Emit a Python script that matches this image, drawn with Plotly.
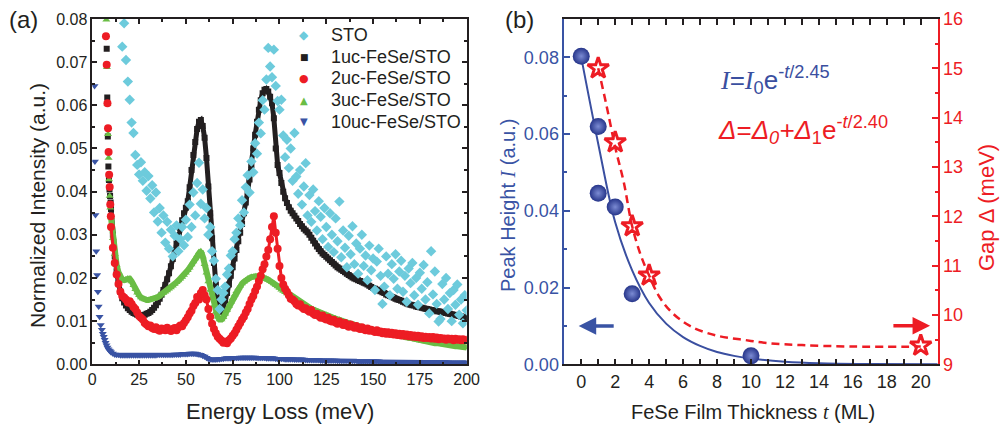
import plotly.graph_objects as go

# ---------------- Panel (a): HREELS spectra ----------------
energy = list(range(10, 201))        # meV, shared grid of the main spectra
energy_sto = list(range(16, 201))    # meV, STO substrate spectrum

# steep elastic-tail points (below 10 meV)
e_1uc_onset = [7.7, 8.0, 8.3, 8.6, 8.9, 9.2, 9.5, 9.8]
i_1uc_onset = [0.0731, 0.0618, 0.0528, 0.0458, 0.0427, 0.0405, 0.0390, 0.0375]
e_2uc_onset = [7.3, 7.7, 8.1, 8.4, 8.7, 9.0, 9.3, 9.6, 9.9]
i_2uc_onset = [0.0760, 0.0694, 0.0605, 0.0547, 0.0492, 0.0439, 0.0411, 0.0370, 0.0343]
e_3uc_onset = [7.5, 7.8, 8.1, 8.4, 8.7, 9.0, 9.3, 9.6]
i_3uc_onset = [0.0798, 0.0688, 0.0603, 0.0533, 0.0478, 0.0428, 0.0390, 0.0363]
e_10uc_onset = [1.2, 1.4, 1.7, 2.1, 2.6, 3.0, 3.4, 3.9, 4.5, 5.1, 5.6, 6.1, 6.6, 7.1, 7.6, 8.1, 8.6, 9.1, 9.6]
i_10uc_onset = [0.0645, 0.0470, 0.0346, 0.0262, 0.0207, 0.0168, 0.0134, 0.0110, 0.0091, 0.0080,
                0.0071, 0.0064, 0.0057, 0.0050, 0.0044, 0.0039, 0.0035, 0.0032, 0.0030]

i_1uc = [
    0.0360, 0.0300, 0.0250, 0.0215, 0.0188, 0.0168, 0.0153, 0.0143, 0.0136, 0.0130,  # 10-19
    0.0126, 0.0122, 0.0119, 0.0117, 0.0115, 0.0114, 0.0114, 0.0114, 0.0115, 0.0117,  # 20-29
    0.0119, 0.0122, 0.0126, 0.0131, 0.0137, 0.0144, 0.0152, 0.0161, 0.0172, 0.0184,  # 30-39
    0.0197, 0.0211, 0.0227, 0.0244, 0.0262, 0.0280, 0.0298, 0.0316, 0.0334, 0.0350,  # 40-49
    0.0363, 0.0378, 0.0410, 0.0450, 0.0485, 0.0515, 0.0545, 0.0562, 0.0566, 0.0552,  # 50-59
    0.0525, 0.0478, 0.0412, 0.0350, 0.0292, 0.0235, 0.0185, 0.0148, 0.0126, 0.0122,  # 60-69
    0.0132, 0.0148, 0.0165, 0.0185, 0.0205, 0.0225, 0.0245, 0.0265, 0.0285, 0.0305,  # 70-79
    0.0325, 0.0350, 0.0375, 0.0400, 0.0428, 0.0462, 0.0500, 0.0532, 0.0562, 0.0590,  # 80-89
    0.0612, 0.0628, 0.0636, 0.0638, 0.0632, 0.0620, 0.0605, 0.0570, 0.0500, 0.0462,  # 90-99
    0.0443, 0.0420, 0.0400, 0.0385, 0.0374, 0.0364, 0.0356, 0.0350, 0.0344, 0.0338,  # 100-109
    0.0332, 0.0325, 0.0320, 0.0314, 0.0310, 0.0306, 0.0300, 0.0293, 0.0286, 0.0280,  # 110-119
    0.0273, 0.0267, 0.0262, 0.0257, 0.0253, 0.0249, 0.0245, 0.0241, 0.0237, 0.0233,  # 120-129
    0.0229, 0.0225, 0.0222, 0.0219, 0.0216, 0.0213, 0.0210, 0.0207, 0.0204, 0.0201,  # 130-139
    0.0199, 0.0197, 0.0195, 0.0193, 0.0191, 0.0189, 0.0187, 0.0185, 0.0182, 0.0179,  # 140-149
    0.0177, 0.0175, 0.0173, 0.0171, 0.0169, 0.0167, 0.0165, 0.0162, 0.0160, 0.0158,  # 150-159
    0.0156, 0.0154, 0.0152, 0.0150, 0.0149, 0.0147, 0.0145, 0.0143, 0.0141, 0.0139,  # 160-169
    0.0138, 0.0137, 0.0136, 0.0134, 0.0133, 0.0132, 0.0131, 0.0130, 0.0129, 0.0128,  # 170-179
    0.0127, 0.0126, 0.0125, 0.0124, 0.0123, 0.0123, 0.0122, 0.0121, 0.0120, 0.0119,  # 180-189
    0.0118, 0.0117, 0.0116, 0.0115, 0.0114, 0.0113, 0.0112, 0.0111, 0.0110, 0.0108,  # 190-199
    0.0107,
]

i_2uc = [
    0.0318, 0.0270, 0.0235, 0.0208, 0.0186, 0.0168, 0.0158, 0.0155, 0.0150, 0.0143,
    0.0146, 0.0140, 0.0133, 0.0128, 0.0120, 0.0112, 0.0108, 0.0104, 0.0096, 0.0092,
    0.0088, 0.0090, 0.0084, 0.0082, 0.0086, 0.0080, 0.0078, 0.0083, 0.0081, 0.0079,
    0.0085, 0.0080, 0.0077, 0.0082, 0.0084, 0.0079, 0.0086, 0.0090, 0.0088, 0.0096,
    0.0102, 0.0109, 0.0118, 0.0124, 0.0135, 0.0142, 0.0156, 0.0150, 0.0165, 0.0172,
    0.0160, 0.0150, 0.0128, 0.0110, 0.0094, 0.0082, 0.0072, 0.0064, 0.0059, 0.0055,
    0.0050, 0.0052, 0.0049, 0.0056, 0.0060, 0.0066, 0.0072, 0.0080, 0.0088, 0.0096,
    0.0104, 0.0110, 0.0120, 0.0128, 0.0140, 0.0150, 0.0158, 0.0170, 0.0180, 0.0193,
    0.0205, 0.0220, 0.0232, 0.0250, 0.0265, 0.0290, 0.0318, 0.0343, 0.0305, 0.0268,
    0.0228, 0.0200, 0.0185, 0.0175, 0.0168, 0.0160, 0.0152, 0.0150, 0.0146, 0.0140,
    0.0136, 0.0139, 0.0132, 0.0128, 0.0130, 0.0125, 0.0122, 0.0126, 0.0118, 0.0114,
    0.0117, 0.0112, 0.0108, 0.0113, 0.0106, 0.0104, 0.0108, 0.0101, 0.0099, 0.0103,
    0.0097, 0.0094, 0.0099, 0.0095, 0.0091, 0.0096, 0.0090, 0.0087, 0.0092, 0.0088,
    0.0085, 0.0089, 0.0084, 0.0082, 0.0086, 0.0081, 0.0079, 0.0083, 0.0078, 0.0080,
    0.0077, 0.0075, 0.0079, 0.0074, 0.0076, 0.0072, 0.0075, 0.0071, 0.0074, 0.0070,
    0.0073, 0.0069, 0.0072, 0.0068, 0.0071, 0.0067, 0.0070, 0.0066, 0.0069, 0.0065,
    0.0068, 0.0064, 0.0067, 0.0063, 0.0066, 0.0062, 0.0065, 0.0061, 0.0064, 0.0061,
    0.0063, 0.0060, 0.0063, 0.0059, 0.0062, 0.0058, 0.0061, 0.0059, 0.0060, 0.0057,
    0.0060, 0.0058, 0.0059, 0.0056, 0.0059, 0.0057, 0.0058, 0.0056, 0.0058, 0.0056,
    0.0057,
]

i_3uc = [
    0.0340, 0.0292, 0.0255, 0.0230, 0.0213, 0.0202, 0.0196, 0.0195, 0.0197, 0.0199,
    0.0198, 0.0192, 0.0183, 0.0174, 0.0166, 0.0160, 0.0155, 0.0152, 0.0150, 0.0149,
    0.0149, 0.0150, 0.0151, 0.0152, 0.0154, 0.0156, 0.0159, 0.0162, 0.0165, 0.0168,
    0.0171, 0.0175, 0.0178, 0.0182, 0.0186, 0.0190, 0.0194, 0.0198, 0.0202, 0.0207,
    0.0212, 0.0218, 0.0224, 0.0231, 0.0238, 0.0245, 0.0253, 0.0260, 0.0262, 0.0250,
    0.0232, 0.0212, 0.0192, 0.0172, 0.0153, 0.0136, 0.0121, 0.0110, 0.0104, 0.0104,
    0.0109, 0.0117, 0.0126, 0.0135, 0.0144, 0.0153, 0.0161, 0.0169, 0.0176, 0.0182,
    0.0187, 0.0191, 0.0195, 0.0198, 0.0200, 0.0202, 0.0203, 0.0204, 0.0204, 0.0204,
    0.0203, 0.0202, 0.0200, 0.0198, 0.0196, 0.0193, 0.0190, 0.0187, 0.0184, 0.0180,
    0.0177, 0.0173, 0.0170, 0.0167, 0.0164, 0.0161, 0.0158, 0.0155, 0.0152, 0.0149,
    0.0146, 0.0143, 0.0141, 0.0138, 0.0136, 0.0134, 0.0131, 0.0129, 0.0127, 0.0125,
    0.0123, 0.0121, 0.0119, 0.0117, 0.0115, 0.0114, 0.0112, 0.0110, 0.0109, 0.0107,
    0.0106, 0.0104, 0.0103, 0.0101, 0.0100, 0.0098, 0.0097, 0.0095, 0.0094, 0.0093,
    0.0091, 0.0090, 0.0089, 0.0087, 0.0086, 0.0085, 0.0084, 0.0082, 0.0081, 0.0080,
    0.0079, 0.0078, 0.0077, 0.0076, 0.0075, 0.0074, 0.0073, 0.0072, 0.0071, 0.0070,
    0.0069, 0.0068, 0.0067, 0.0066, 0.0065, 0.0064, 0.0063, 0.0062, 0.0061, 0.0060,
    0.0059, 0.0058, 0.0058, 0.0057, 0.0056, 0.0055, 0.0054, 0.0054, 0.0053, 0.0052,
    0.0051, 0.0051, 0.0050, 0.0049, 0.0049, 0.0048, 0.0047, 0.0047, 0.0046, 0.0045,
    0.0045, 0.0044, 0.0043, 0.0043, 0.0042, 0.0042, 0.0041, 0.0040, 0.0040, 0.0039,
    0.0039,
]

i_10uc = [
    0.0028, 0.0025, 0.0023, 0.0022, 0.0022, 0.0021, 0.0021, 0.0021, 0.0021, 0.0021,
    0.0021, 0.0021, 0.0021, 0.0021, 0.0021, 0.0021, 0.0021, 0.0021, 0.0021, 0.0021,
    0.0021, 0.0021, 0.0021, 0.0021, 0.0021, 0.0022, 0.0022, 0.0022, 0.0022, 0.0022,
    0.0022, 0.0022, 0.0022, 0.0022, 0.0023, 0.0023, 0.0023, 0.0023, 0.0024, 0.0024,
    0.0024, 0.0024, 0.0025, 0.0025, 0.0025, 0.0025, 0.0024, 0.0023, 0.0022, 0.0020,
    0.0018, 0.0015, 0.0013, 0.0012, 0.0011, 0.0011, 0.0011, 0.0012, 0.0012, 0.0013,
    0.0013, 0.0014, 0.0014, 0.0014, 0.0014, 0.0015, 0.0015, 0.0015, 0.0015, 0.0016,
    0.0016, 0.0016, 0.0016, 0.0016, 0.0016, 0.0016, 0.0016, 0.0016, 0.0015, 0.0015,
    0.0015, 0.0015, 0.0015, 0.0014, 0.0014, 0.0014, 0.0014, 0.0014, 0.0013, 0.0013,
    0.0013, 0.0013, 0.0013, 0.0012, 0.0012, 0.0012, 0.0012, 0.0012, 0.0011, 0.0011,
    0.0011, 0.0011, 0.0011, 0.0011, 0.0010, 0.0010, 0.0010, 0.0010, 0.0010, 0.0010,
    0.0010, 0.0010, 0.0009, 0.0009, 0.0009, 0.0009, 0.0009, 0.0009, 0.0009, 0.0009,
    0.0009, 0.0008, 0.0008, 0.0008, 0.0008, 0.0008, 0.0008, 0.0008, 0.0008, 0.0008,
    0.0008, 0.0008, 0.0007, 0.0007, 0.0007, 0.0007, 0.0007, 0.0007, 0.0007, 0.0007,
    0.0007, 0.0007, 0.0007, 0.0007, 0.0006, 0.0006, 0.0006, 0.0006, 0.0006, 0.0006,
    0.0006, 0.0006, 0.0006, 0.0006, 0.0006, 0.0006, 0.0006, 0.0006, 0.0006, 0.0006,
    0.0006, 0.0005, 0.0005, 0.0005, 0.0005, 0.0005, 0.0005, 0.0005, 0.0005, 0.0005,
    0.0005, 0.0005, 0.0005, 0.0005, 0.0005, 0.0005, 0.0005, 0.0005, 0.0005, 0.0005,
    0.0005, 0.0004, 0.0004, 0.0004, 0.0004, 0.0004, 0.0004, 0.0004, 0.0004, 0.0004,
    0.0004,
]

i_sto = [
    0.0736, 0.0790, 0.0705, 0.0655, 0.0613, 0.0560, 0.0536, 0.0485, 0.0462, 0.0440,  # 16-25
    0.0468, 0.0425, 0.0445, 0.0402, 0.0436, 0.0384, 0.0415, 0.0352, 0.0398, 0.0331,  # 26-35
    0.0362, 0.0305, 0.0345, 0.0282, 0.0330, 0.0268, 0.0312, 0.0250, 0.0298, 0.0322,  # 36-45
    0.0262, 0.0290, 0.0318, 0.0276, 0.0335, 0.0295, 0.0370, 0.0318, 0.0398, 0.0345,  # 46-55
    0.0420, 0.0467, 0.0372, 0.0405, 0.0338, 0.0362, 0.0300, 0.0318, 0.0262, 0.0240,  # 56-65
    0.0198, 0.0172, 0.0128, 0.0150, 0.0165, 0.0180, 0.0208, 0.0222, 0.0252, 0.0262,  # 66-75
    0.0290, 0.0305, 0.0338, 0.0322, 0.0380, 0.0352, 0.0410, 0.0438, 0.0398, 0.0470,  # 76-85
    0.0445, 0.0512, 0.0488, 0.0560, 0.0535, 0.0612, 0.0590, 0.0660, 0.0733, 0.0690,  # 86-95
    0.0665, 0.0729, 0.0645, 0.0610, 0.0590, 0.0613, 0.0530, 0.0480, 0.0520, 0.0455,  # 96-105
    0.0500, 0.0425, 0.0536, 0.0435, 0.0395, 0.0450, 0.0370, 0.0412, 0.0466, 0.0345,  # 106-115
    0.0392, 0.0330, 0.0405, 0.0355, 0.0310, 0.0378, 0.0342, 0.0290, 0.0362, 0.0318,  # 116-125
    0.0272, 0.0350, 0.0300, 0.0260, 0.0338, 0.0285, 0.0377, 0.0248, 0.0310, 0.0270,  # 126-135
    0.0225, 0.0298, 0.0255, 0.0320, 0.0232, 0.0280, 0.0210, 0.0268, 0.0300, 0.0228,  # 136-145
    0.0252, 0.0195, 0.0275, 0.0218, 0.0245, 0.0172, 0.0238, 0.0268, 0.0205, 0.0140,  # 146-155
    0.0180, 0.0250, 0.0210, 0.0160, 0.0232, 0.0198, 0.0255, 0.0175, 0.0215, 0.0240,  # 156-165
    0.0168, 0.0205, 0.0145, 0.0222, 0.0188, 0.0235, 0.0160, 0.0200, 0.0138, 0.0212,  # 166-175
    0.0175, 0.0230, 0.0150, 0.0190, 0.0118, 0.0262, 0.0162, 0.0215, 0.0140, 0.0099,  # 176-185
    0.0105, 0.0186, 0.0150, 0.0200, 0.0128, 0.0165, 0.0100, 0.0172, 0.0138, 0.0185,  # 186-195
    0.0115, 0.0150, 0.0095, 0.0160, 0.0125,                                          # 196-200
]

# ---------------- Panel (b): thickness dependence ----------------
t_peak = [0, 1, 1, 2, 3, 10]
peak_height = [0.0803, 0.0620, 0.0446, 0.0410, 0.0184, 0.0022]
t_gap = [1, 2, 3, 4, 20]
gap = [15.0, 13.5, 11.8, 10.8, 9.38]

# fitted curves
t_fit_peak = [0, 1, 2, 3, 4, 5, 6, 7, 8, 9, 10, 12, 14, 17, 21]
peak_fit = [0.0800, 0.0575, 0.0370, 0.0245, 0.0160, 0.0106, 0.0071, 0.0048, 0.0032,
            0.0022, 0.0015, 0.0007, 0.0003, 0.0001, 0.00003]
t_fit_gap = [1.0, 1.5, 2.0, 2.5, 3.0, 3.5, 4.0, 4.6, 5.4, 6.5, 8.0, 9.5, 11, 13, 16, 20]
gap_fit = [15.0, 14.23, 13.4, 12.7, 11.8, 11.22, 10.8, 10.37, 10.03, 9.76, 9.58,
           9.5, 9.43, 9.39, 9.36, 9.36]

# legend rows of panel (a)
legend_labels = ["STO", "1uc-FeSe/STO", "2uc-FeSe/STO", "3uc-FeSe/STO", "10uc-FeSe/STO"]

BLACK = "#231f20"
RED = "#ed1c24"
GREEN = "#6abd45"
NAVY = "#3953a4"
CYAN = "#6dcbdc"
FIT_BLUE = "#3a4fa0"
SANS = "Liberation Sans, Arial, sans-serif"

fig = go.Figure()


def spectrum(name, color, symbol, msize, e_on, i_on, i_main, lw):
    # thick line under dense markers renders the closely spaced data points
    fig.add_trace(go.Scatter(
        x=energy, y=i_main, mode="lines+markers", name=name,
        line=dict(color=color, width=lw),
        marker=dict(symbol=symbol, size=msize, color=color),
        xaxis="x", yaxis="y", hoverinfo="skip"))
    fig.add_trace(go.Scatter(
        x=e_on, y=i_on, mode="markers", name=name,
        marker=dict(symbol=symbol, size=msize, color=color),
        xaxis="x", yaxis="y"))


spectrum("1uc-FeSe/STO", BLACK, "square", 6, e_1uc_onset, i_1uc_onset, i_1uc, 5)
spectrum("3uc-FeSe/STO", GREEN, "triangle-up", 7, e_3uc_onset, i_3uc_onset, i_3uc, 6)
spectrum("2uc-FeSe/STO", RED, "circle", 8, e_2uc_onset, i_2uc_onset, i_2uc, 3)
spectrum("10uc-FeSe/STO", NAVY, "triangle-down", 7, e_10uc_onset, i_10uc_onset, i_10uc, 4)

fig.add_trace(go.Scatter(
    x=energy_sto, y=i_sto, mode="markers", name="STO",
    marker=dict(symbol="diamond", size=8, color=CYAN),
    xaxis="x", yaxis="y"))

# panel (b) traces
fig.add_trace(go.Scatter(
    x=t_fit_peak, y=peak_fit, mode="lines", line=dict(color=FIT_BLUE, width=2, shape="spline"),
    xaxis="x2", yaxis="y2"))
fig.add_trace(go.Scatter(
    x=t_fit_gap, y=gap_fit, mode="lines",
    line=dict(color=RED, width=2.5, dash="8px,5px", shape="spline"),
    xaxis="x2", yaxis="y3"))
fig.add_trace(go.Scatter(
    x=t_peak, y=peak_height, mode="markers",
    marker=dict(symbol="circle", size=17, color="#26358a",
                gradient=dict(type="radial", color="#7b8bd3")),
    xaxis="x2", yaxis="y2"))
fig.add_trace(go.Scatter(
    x=t_gap, y=gap, mode="markers",
    marker=dict(symbol="star-open", size=16, color=RED, line=dict(width=3, color=RED)),
    xaxis="x2", yaxis="y3"))

X_DOM_A = [0.0922, 0.4662]
X_DOM_B = [0.5637, 0.9368]
Y_DOM = [0.1468, 0.9555]

common_tick = dict(ticks="inside", tickwidth=1.5, showgrid=False, zeroline=False,
                   showline=True, linewidth=1.5, automargin=False)

fig.update_layout(
    width=1001, height=427,
    margin=dict(l=0, r=0, t=0, b=0),
    template="none",
    paper_bgcolor="white", plot_bgcolor="white",
    font=dict(family=SANS, color=BLACK),
    showlegend=False,
    xaxis=dict(domain=X_DOM_A, range=[0, 200], dtick=25, tick0=0, ticklen=5,
               minor=dict(dtick=12.5, ticks="inside", ticklen=3, tickwidth=1.5, tickcolor=BLACK),
               linecolor=BLACK, tickcolor=BLACK, mirror="allticks", anchor="y",
               tickfont=dict(size=16, color=BLACK), **common_tick),
    yaxis=dict(domain=Y_DOM, range=[0, 0.08], dtick=0.01, tick0=0, tickformat=".2f", ticklen=5,
               minor=dict(dtick=0.005, ticks="inside", ticklen=3, tickwidth=1.5, tickcolor=BLACK),
               linecolor=BLACK, tickcolor=BLACK, mirror="allticks", anchor="x",
               tickfont=dict(size=16, color=BLACK), **common_tick),
    xaxis2=dict(domain=X_DOM_B, range=[-1, 21], dtick=2, tick0=0, ticklen=6,
                minor=dict(dtick=1, ticks="inside", ticklen=3, tickwidth=1.5, tickcolor=BLACK),
                linecolor=BLACK, tickcolor=BLACK, mirror="allticks", anchor="y2",
                tickfont=dict(size=18, color=BLACK), **common_tick),
    yaxis2=dict(domain=Y_DOM, range=[0, 0.09], tickvals=[0, 0.02, 0.04, 0.06, 0.08],
                tickformat=".2f", ticklen=6,
                minor=dict(dtick=0.01, ticks="inside", ticklen=3, tickwidth=1.5, tickcolor=NAVY),
                linecolor=NAVY, tickcolor=NAVY, anchor="x2",
                tickfont=dict(size=18, color=NAVY), **common_tick),
    yaxis3=dict(domain=Y_DOM, range=[9, 16], dtick=1, tick0=9, ticklen=6,
                minor=dict(dtick=0.5, ticks="inside", ticklen=3, tickwidth=1.5, tickcolor=RED),
                linecolor=RED, tickcolor=RED, anchor="x2", overlaying="y2", side="right",
                tickfont=dict(size=18, color=RED), **common_tick),
)

SERIF_I = '<span style="font-family:Liberation Serif"><i>I</i></span>'
annotations = [
    dict(text="(a)", x=23 / 1001, y=1 - 19 / 427, font=dict(size=24)),
    dict(text="(b)", x=519 / 1001, y=1 - 19 / 427, font=dict(size=24)),
    dict(text="Normalized Intensity (a.u.)", x=37 / 1001, y=1 - 206 / 427, textangle=-90,
         font=dict(size=21)),
    dict(text="Energy Loss (meV)", x=280 / 1001, y=1 - 411 / 427, font=dict(size=22)),
    dict(text="Peak Height " + SERIF_I + " (a.u.)", x=508 / 1001, y=1 - 206 / 427,
         textangle=-90, font=dict(size=20, color=NAVY)),
    dict(text="Gap Δ (meV)", x=986 / 1001, y=1 - 208 / 427, textangle=-90,
         font=dict(size=22, color=RED)),
    dict(text='FeSe Film Thickness <span style="font-family:Liberation Serif"><i>t</i></span> (ML)',
         x=753 / 1001, y=1 - 412 / 427, font=dict(size=20)),
    dict(text=SERIF_I + "=" + SERIF_I + "<sub>0</sub>e<sup>-<i>t</i>/2.45</sup>",
         x=718 / 1001, y=1 - 80 / 427, xanchor="left", font=dict(size=26, color=FIT_BLUE)),
    dict(text="<i>Δ</i>=<i>Δ</i><sub><i>0</i></sub><i>+Δ</i><sub>1</sub>e<sup>-<i>t</i>/2.40</sup>",
         x=716 / 1001, y=1 - 130 / 427, xanchor="left", font=dict(size=26, color=RED)),
]

# legend of panel (a): symbol glyph + label per row
legend_glyphs = [("◆", CYAN, 12), ("■", BLACK, 9), ("●", RED, 11), ("▲", GREEN, 10), ("▼", NAVY, 10)]
legend_rows_px = [35, 56.7, 78.3, 100, 121.7]
for label, (glyph, col, gsize), ypx in zip(legend_labels, legend_glyphs, legend_rows_px):
    annotations.append(dict(text=glyph, x=304 / 1001, y=1 - ypx / 427,
                            font=dict(size=gsize, color=col, family="DejaVu Sans")))
    annotations.append(dict(text=label, x=329 / 1001, y=1 - ypx / 427, xanchor="left",
                            font=dict(size=18, color=BLACK)))

for a in annotations:
    a.setdefault("xref", "paper")
    a.setdefault("yref", "paper")
    a.setdefault("showarrow", False)
    a.setdefault("xanchor", "center")
    a.setdefault("yanchor", "middle")
    fig.add_annotation(**a)

# axis-pointer arrows
fig.add_annotation(x=-0.15, y=0.0100, ax=2.0, ay=0.0100, xref="x2", yref="y2",
                   axref="x2", ayref="y2", text="", showarrow=True, arrowhead=2,
                   arrowsize=1, arrowwidth=3.5, arrowcolor=NAVY)
fig.add_annotation(x=20.55, y=9.78, ax=18.3, ay=9.78, xref="x2", yref="y3",
                   axref="x2", ayref="y3", text="", showarrow=True, arrowhead=2,
                   arrowsize=1, arrowwidth=3.5, arrowcolor=RED)

fig.write_html("out.html")
